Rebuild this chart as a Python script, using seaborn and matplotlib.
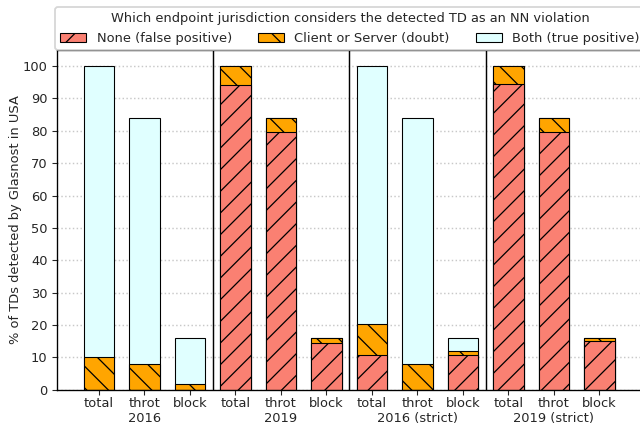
import pandas as pd
import matplotlib
matplotlib.use("Agg")
import matplotlib.pyplot as plt
from matplotlib.patches import Patch
import seaborn as sns

# data (percent of TDs)
years = ["2016", "2019", "2016 (strict)", "2019 (strict)"]
kinds = ["total", "throt", "block"]
none_fp = [0, 0, 0, 94.2, 79.5, 14.6, 10.7, 0, 10.7, 94.5, 79.5, 15.0]
client_doubt = [10.0, 8.0, 1.7, 5.8, 4.5, 1.4, 9.5, 8.0, 1.3, 5.5, 4.5, 1.0]
both_tp = [90.0, 76.0, 14.3, 0, 0, 0, 79.8, 76.0, 4.0, 0, 0, 0]

slots = [f"{k}|{y}" for y in years for k in kinds]
df = pd.DataFrame({"slot": slots, "none": none_fp, "client": client_doubt, "both": both_tp})
df["lvl2"] = df["none"] + df["client"]
df["lvl3"] = df["lvl2"] + df["both"]

sns.set_style("ticks")
plt.rcParams["hatch.linewidth"] = 0.7
FS = 7.2
DPI = 130

fig, ax = plt.subplots(figsize=(640 / DPI, 426 / DPI), dpi=DPI)
fig.subplots_adjust(left=0.089, right=1.002, top=0.883, bottom=0.085)

# stacked look: draw cumulative heights, tallest first
common = dict(x="slot", order=slots, width=0.67, saturation=1,
              edgecolor="black", linewidth=0.6, ax=ax)
sns.barplot(data=df, y="lvl3", color="lightcyan", **common)
sns.barplot(data=df, y="lvl2", color="orange", hatch="\\\\", **common)
sns.barplot(data=df, y="none", color="salmon", hatch="//", **common)

n = len(slots)
ax.set_xlim(-0.92, n - 1 + 0.92)
ax.set_ylim(0, 105)
ax.set_yticks(range(0, 101, 10))
ax.yaxis.grid(True, linestyle=":", color="#c8c8c8", linewidth=0.8)
ax.set_axisbelow(True)
for b in [2.5, 5.5, 8.5]:
    ax.axvline(b, color="black", linewidth=0.8)

labels = []
for y in years:
    labels += [kinds[0], kinds[1] + "\n" + y, kinds[2]]
ax.set_xticks(range(n))
ax.set_xticklabels(labels, fontsize=FS)
ax.tick_params(axis="both", labelsize=FS, length=2.7, width=0.6, pad=2.5)
ax.tick_params(axis="x", pad=1.5)
ax.set_xlabel("")
ax.set_ylabel("% of TDs detected by Glasnost in USA", fontsize=FS, labelpad=0.5)
for s in ax.spines.values():
    s.set_color("black")
    s.set_linewidth(0.75)

handles = [
    Patch(facecolor="salmon", edgecolor="black", linewidth=0.6, hatch="//", label="None (false positive)"),
    Patch(facecolor="orange", edgecolor="black", linewidth=0.6, hatch="\\\\", label="Client or Server (doubt)"),
    Patch(facecolor="lightcyan", edgecolor="black", linewidth=0.6, label="Both (true positive)"),
]
ax.legend(handles=handles, ncol=3, loc="lower left", bbox_to_anchor=(-0.003, 1.0),
          title="Which endpoint jurisdiction considers the detected TD as an NN violation",
          fontsize=FS, title_fontsize=FS, frameon=True, borderaxespad=0)

plt.savefig("out.png", dpi=DPI)
